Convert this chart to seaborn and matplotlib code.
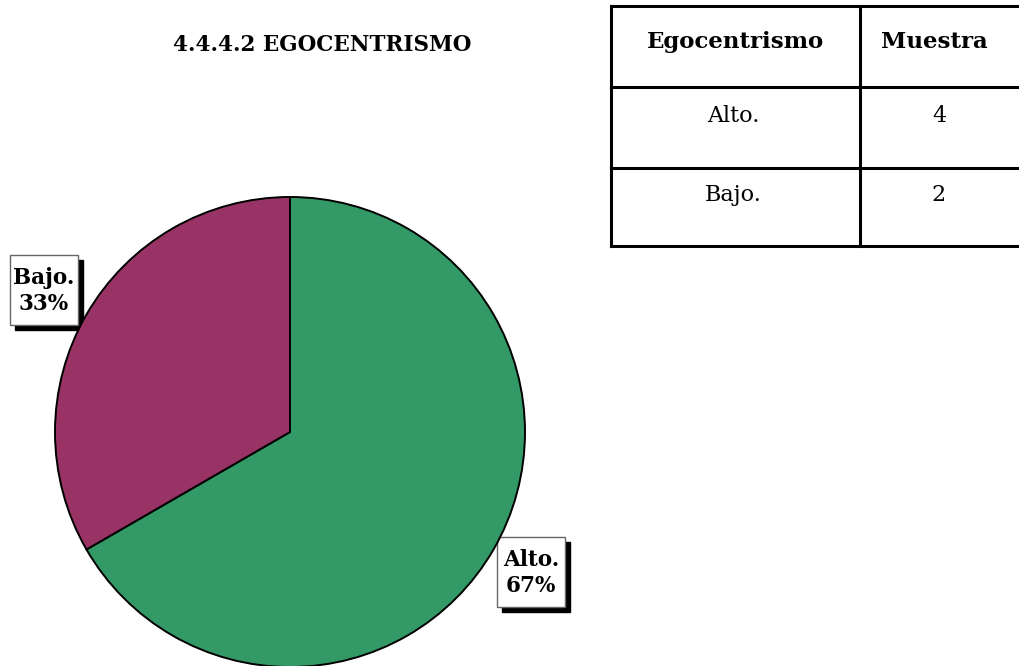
import matplotlib
matplotlib.use("Agg")
import matplotlib.pyplot as plt
from matplotlib.patches import Rectangle
import seaborn as sns

sns.set_theme(style="white")
plt.rcParams['font.family'] = ['DejaVu Serif']
plt.rcParams['text.color'] = 'black'

title = "4.4.4.2 EGOCENTRISMO"
categories = ["Alto.", "Bajo."]
values = [4, 2]
colors = ["#339966", "#993366"]
table_header = ["Egocentrismo", "Muestra"]

W, H = 1019, 666
fig = plt.figure(figsize=(W / 100, H / 100), dpi=100)
fig.patch.set_facecolor("white")

# overlay axes in pixel coords (y downward)
ov = fig.add_axes([0, 0, 1, 1])
ov.set_xlim(0, W)
ov.set_ylim(H, 0)
ov.axis("off")

ov.text(322, 45, title, ha="center", va="center", fontsize=15.5, fontweight="bold")

# pie
cx, cy, r = 290, 432, 235
pax = fig.add_axes([(cx - r) / W, (H - cy - r) / H, 2 * r / W, 2 * r / H])
wedges, _ = pax.pie(values, colors=colors, startangle=90, counterclock=False,
                    wedgeprops=dict(edgecolor="black", linewidth=1.4))
pax.set_xlim(-1, 1)
pax.set_ylim(-1, 1)
pax.set_aspect("auto")
pax.axis("off")
for w in wedges:
    w.set_clip_on(False)

total = sum(values)
label_pos = {"Alto.": (531, 572), "Bajo.": (44, 290)}
bw, bh, sh = 68, 70, 5
for cat, v in zip(categories, values):
    px, py = label_pos[cat]
    txt = f"{cat}\n{round(100 * v / total)}%"
    ov.add_patch(Rectangle((px - bw / 2 + sh, py - bh / 2 + sh), bw, bh,
                           facecolor="black", edgecolor="black", zorder=3))
    ov.add_patch(Rectangle((px - bw / 2, py - bh / 2), bw, bh,
                           facecolor="white", edgecolor="#666666", linewidth=1, zorder=4))
    ov.text(px, py + 1, txt, ha="center", va="center", fontsize=15.5,
            fontweight="bold", color="black", linespacing=1.2, zorder=5)

# table
x0, xm, x1 = 611, 860, 1030
ys = [6, 87, 168, 246]
lw = 2.2
for y in ys:
    ov.plot([x0, x1], [y, y], color="black", lw=lw, clip_on=False, solid_capstyle="projecting")
for x in [x0, xm]:
    ov.plot([x, x], [ys[0], ys[-1]], color="black", lw=lw, solid_capstyle="projecting")

ov.text((x0 + xm) / 2, 42, table_header[0], ha="center", va="center", fontsize=16.5, fontweight="bold")
ov.text(934, 42, table_header[1], ha="center", va="center", fontsize=16.5, fontweight="bold")
for i, (cat, v) in enumerate(zip(categories, values)):
    yc = (ys[i + 1] + ys[i + 2]) / 2 - 12
    ov.text(733, yc, cat, ha="center", va="center", fontsize=16)
    ov.text(939, yc, str(v), ha="center", va="center", fontsize=16)

fig.savefig("out.png", dpi=100, facecolor="white")
